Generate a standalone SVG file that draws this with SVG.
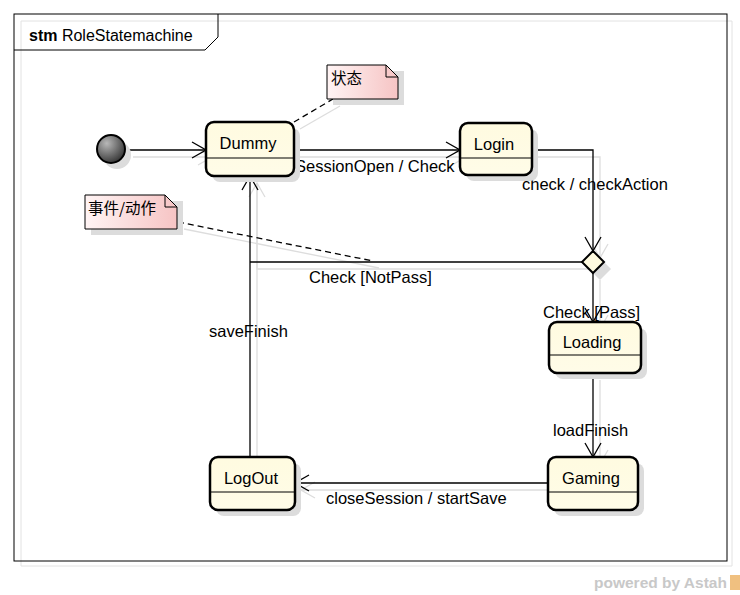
<svg xmlns="http://www.w3.org/2000/svg" width="740" height="595" viewBox="0 0 740 595">
<style>
  text { font-family: "Liberation Sans", Arial, sans-serif; fill: #000; }
  .lbl { font-size: 16.5px; }
  .nm { font-size: 16.5px; text-anchor: middle; }
  .st { fill: url(#stateFill); stroke: #000; stroke-width: 2.5; }
  .div { stroke: #000; stroke-width: 1.2; }
  .sh { fill: #dcdcdc; stroke: none; }
  .ln { fill: none; stroke: #000; stroke-width: 1.3; }
  .lsh { fill: none; stroke: #dddddd; stroke-width: 1.3; }
  .note { fill: url(#noteFill); stroke: #000; stroke-width: 1; }
  .dash { fill: none; stroke: #000; stroke-width: 1.3; stroke-dasharray: 6 4; }
  .cjk { font-family: "Noto Sans CJK SC", "Liberation Sans", sans-serif; font-size: 15.5px; }
</style>
<defs>
  <linearGradient id="stateFill" x1="0" y1="0" x2="0" y2="1">
    <stop offset="0" stop-color="#fffbe0"/>
    <stop offset="1" stop-color="#fffce8"/>
  </linearGradient>
  <linearGradient id="noteFill" x1="0" y1="0" x2="1" y2="0">
    <stop offset="0" stop-color="#fff4f4"/>
    <stop offset="1" stop-color="#f6c4c4"/>
  </linearGradient>
  <radialGradient id="initFill" cx="0.35" cy="0.3" r="0.8">
    <stop offset="0" stop-color="#b8b8b8"/>
    <stop offset="1" stop-color="#2a2a2a"/>
  </radialGradient>
  <marker id="open" viewBox="0 0 16 18" refX="15" refY="9" markerWidth="16" markerHeight="18" markerUnits="userSpaceOnUse" orient="auto">
    <path d="M1,1 L15,9 L1,17" fill="none" stroke="#000" stroke-width="1.3"/>
  </marker>
  <marker id="openSh" viewBox="0 0 16 18" refX="15" refY="9" markerWidth="16" markerHeight="18" markerUnits="userSpaceOnUse" orient="auto">
    <path d="M1,1 L15,9 L1,17" fill="none" stroke="#dddddd" stroke-width="1.3"/>
  </marker>
</defs>

<rect width="740" height="595" fill="#fff"/>

<!-- frame -->
<g id="frame">
  <polyline points="21,21 732,21 732,566 21,566 21,21" fill="none" stroke="#e2e2e2" stroke-width="1"/>
  <rect x="14" y="14" width="713" height="547" fill="none" stroke="#000" stroke-width="1"/>
  <polyline points="14,50 205,50 218,37 218,14" fill="none" stroke="#000" stroke-width="1"/>
  <text x="29" y="41" style="font-size:16px"><tspan font-weight="bold">stm</tspan> RoleStatemachine</text>
</g>

<!-- connectors -->
<g id="connectors">
  <!-- shadows -->
  <line class="lsh" x1="133" y1="157" x2="212" y2="157" marker-end="url(#openSh)"/>
  <line class="lsh" x1="300" y1="157" x2="466" y2="157" marker-end="url(#openSh)"/>
  <polyline class="lsh" points="538,157 600,157 600,258" marker-end="url(#openSh)"/>
  <polyline class="lsh" points="589,269 257,269 257,183"/>
  <line class="lsh" x1="600" y1="280" x2="600" y2="329" marker-end="url(#openSh)"/>
  <line class="lsh" x1="600" y1="380" x2="600" y2="464" marker-end="url(#openSh)"/>
  <line class="lsh" x1="554" y1="490" x2="301" y2="490" marker-end="url(#openSh)"/>
  <line class="lsh" x1="257" y1="464" x2="257" y2="183" marker-end="url(#openSh)"/>
  <line class="lsh" x1="300" y1="129" x2="340" y2="106"/>
  <line class="lsh" x1="184" y1="229" x2="379" y2="268"/>

  <!-- initial -> Dummy -->
  <line class="ln" x1="126" y1="150" x2="206" y2="150" marker-end="url(#open)"/>
  <!-- Dummy -> Login -->
  <line class="ln" x1="294" y1="150" x2="460" y2="150" marker-end="url(#open)"/>
  <text class="lbl" x="295" y="172">SessionOpen / Check</text>
  <!-- Login -> decision -->
  <polyline class="ln" points="532,150 593,150 593,251" marker-end="url(#open)"/>
  <text class="lbl" x="522" y="190">check / checkAction</text>
  <!-- decision -> Dummy (NotPass) and LogOut -> Dummy -->
  <polyline class="ln" points="582,262 250,262"/>
  <line class="ln" x1="250" y1="457" x2="250" y2="176" marker-end="url(#open)"/>
  <text class="lbl" x="309" y="283">Check [NotPass]</text>
  <text class="lbl" x="209" y="337">saveFinish</text>
  <!-- decision -> Loading -->
  <line class="ln" x1="593" y1="273" x2="593" y2="322" marker-end="url(#open)"/>
  <text class="lbl" x="543" y="318">Check [Pass]</text>
  <!-- Loading -> Gaming -->
  <line class="ln" x1="593" y1="373" x2="593" y2="457" marker-end="url(#open)"/>
  <text class="lbl" x="553" y="436">loadFinish</text>
  <!-- Gaming -> LogOut -->
  <line class="ln" x1="548" y1="483" x2="295" y2="483" marker-end="url(#open)"/>
  <text class="lbl" x="326" y="504">closeSession / startSave</text>
  <!-- note links -->
  <line class="dash" x1="294" y1="122" x2="333" y2="99"/>
  <line class="dash" x1="178" y1="222" x2="373" y2="261"/>
</g>

<!-- initial -->
<g id="initial">
  <circle cx="117" cy="155" r="14" class="sh"/>
  <circle cx="111" cy="149" r="14" fill="url(#initFill)" stroke="#000" stroke-width="2"/>
</g>

<!-- Dummy -->
<g id="Dummy">
  <rect x="212" y="128" width="88" height="54" rx="8" class="sh"/>
  <rect x="206" y="122" width="88" height="54" rx="8" class="st"/>
  <line class="div" x1="206" y1="158" x2="294" y2="158"/>
  <text class="nm" x="248" y="149">Dummy</text>
</g>

<!-- Login -->
<g id="Login">
  <rect x="466" y="129" width="72" height="52" rx="8" class="sh"/>
  <rect x="460" y="123" width="72" height="52" rx="8" class="st"/>
  <line class="div" x1="460" y1="158" x2="532" y2="158"/>
  <text class="nm" x="494" y="150">Login</text>
</g>

<!-- decision -->
<g id="decision">
  <polygon points="600,258 611,269 600,280 589,269" class="sh"/>
  <polygon points="593,251 604,262 593,273 582,262" fill="#fffbe0" stroke="#000" stroke-width="2"/>
</g>

<!-- Loading -->
<g id="Loading">
  <rect x="555" y="328" width="92" height="51" rx="8" class="sh"/>
  <rect x="549" y="322" width="92" height="51" rx="8" class="st"/>
  <line class="div" x1="549" y1="355" x2="641" y2="355"/>
  <text class="nm" x="592" y="348">Loading</text>
</g>

<!-- Gaming -->
<g id="Gaming">
  <rect x="554" y="463" width="90" height="53" rx="8" class="sh"/>
  <rect x="548" y="457" width="90" height="53" rx="8" class="st"/>
  <line class="div" x1="548" y1="492" x2="638" y2="492"/>
  <text class="nm" x="591" y="484">Gaming</text>
</g>

<!-- LogOut -->
<g id="LogOut">
  <rect x="216" y="463" width="85" height="53" rx="8" class="sh"/>
  <rect x="210" y="457" width="85" height="53" rx="8" class="st"/>
  <line class="div" x1="210" y1="492" x2="295" y2="492"/>
  <text class="nm" x="251" y="484">LogOut</text>
</g>

<!-- note 状态 -->
<g id="note1">
  <polygon points="333,71 404,71 404,105 333,105" class="sh"/>
  <path d="M327,65 L386,65 L398,77 L398,99 L327,99 Z" class="note"/>
  <path d="M386,65 L386,77 L398,77" fill="none" stroke="#000" stroke-width="1"/>
  <text class="cjk" x="331" y="84">状态</text>
</g>

<!-- note 事件/动作 -->
<g id="note2">
  <polygon points="91,201 183,201 183,235 91,235" class="sh"/>
  <path d="M85,195 L165,195 L177,207 L177,229 L85,229 Z" class="note"/>
  <path d="M165,195 L165,207 L177,207" fill="none" stroke="#000" stroke-width="1"/>
  <text class="cjk" x="88" y="214">事件/动作</text>
</g>

<!-- watermark -->
<g id="watermark">
  <text x="594" y="588" style="font-size:15.5px;font-weight:bold;fill:#c8c8c8">powered by Astah</text>
  <rect x="730" y="575" width="10" height="15" fill="#f0c080"/>
</g>
</svg>
